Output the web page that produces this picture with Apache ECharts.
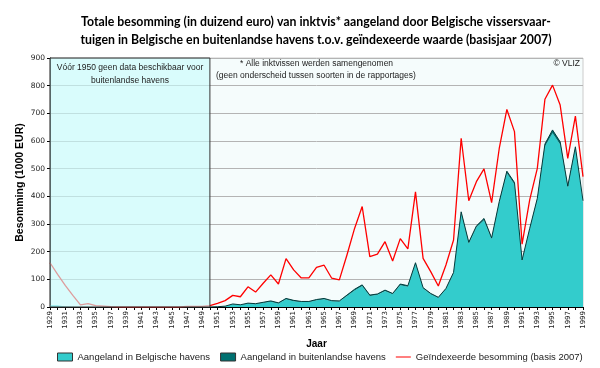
<!DOCTYPE html>
<html><head><meta charset="utf-8">
<script src="https://cdn.jsdelivr.net/npm/echarts@6/dist/echarts.min.js"></script>
<style>html,body{margin:0;padding:0;background:#fff}#c{width:600px;height:368px}</style>
</head><body><div id="c"></div>
<script>
const years = [];
for (let y = 1929; y <= 1999; y++) years.push(String(y));

// 1929..1999
const belgian = [6,6,2,1,0,0,0,0,0,0,0,0,0,0,0,0,0,0,0,0,0,
  0,1,2,9,7,12,10,15,19,13,
  28,21,18,18,24,28,21,20,40,60,
  76,40,44,58,46,79,73,155,67,46,
  33,64,121,338,229,288,314,245,375,483,
  443,166,279,387,580,628,587,430,571,378];
const foreign = [null,null,null,null,null,null,null,null,null,null,null,null,null,null,null,null,null,null,null,null,null,
  0,0,1,2,1,2,2,2,3,2,
  3,3,2,2,3,3,2,2,3,4,
  4,3,3,3,3,4,4,5,3,3,
  2,3,4,6,5,5,6,5,6,8,
  7,4,5,6,9,12,10,7,8,6];
const indexed = [160,118,78,42,8,12,5,3,1,0,0,0,0,0,0,0,0,0,2,2,2,5,
  13,23,42,37,73,54,86,116,83,
  175,134,105,105,143,151,104,98,188,284,
  363,182,191,236,166,247,210,416,176,128,
  76,152,242,610,384,453,499,377,573,714,
  634,227,387,501,751,802,730,537,690,471];

const legendNames = ['Aangeland in Belgische havens','Aangeland in buitenlandse havens','Geïndexeerde besomming (basis 2007)'];

const chart = echarts.init(document.getElementById('c'), null, {renderer:'canvas'});
const sans = '"Liberation Sans", Arial, sans-serif';
const small = '8.5px "Liberation Sans", Arial, sans-serif';
chart.setOption({
  animation:false,
  textStyle:{fontFamily:sans},
  title:{
    text:'Totale besomming (in duizend euro) van inktvis* aangeland door Belgische vissersvaar-\ntuigen in Belgische en buitenlandse havens t.o.v. geïndexeerde waarde (basisjaar 2007)',
    left:311, textAlign:'center', top:8,
    textStyle:{fontSize:12.3, fontWeight:'bold', color:'#000', lineHeight:18, fontFamily:'Lato, sans-serif'}
  },
  grid:{left:50, right:17, top:58, bottom:61, show:true, backgroundColor:'#f5fcfc', borderColor:'#cccccc', borderWidth:1},
  legend:{
    bottom:1, left:52, itemGap:10, itemWidth:15, itemHeight:8,
    textStyle:{fontSize:9.5, color:'#222', fontFamily:sans},
    data:[
      {name:legendNames[0], icon:'rect', itemStyle:{color:'#33cccc', borderColor:'#333', borderWidth:1}},
      {name:legendNames[1], icon:'rect', itemStyle:{color:'#007070', borderColor:'#333', borderWidth:1}},
      {name:legendNames[2], icon:'path://M0,0L0,0ZM0,3.4L15,3.4L15,4.6L0,4.6ZM15,8L15,8Z', itemStyle:{color:'#ff0000'}}
    ]
  },
  xAxis:{
    type:'category', data:years, boundaryGap:false,
    name:'Jaar', nameLocation:'middle', nameGap:32,
    nameTextStyle:{fontSize:10, fontWeight:'bold', color:'#000', fontFamily:sans},
    axisLine:{lineStyle:{color:'#000', width:1}},
    axisTick:{interval:0, length:3, lineStyle:{color:'#000'}},
    axisLabel:{interval:1, rotate:90, fontSize:7, color:'#222', margin:4, fontFamily:'"DejaVu Sans", sans-serif'},
    splitLine:{show:false}
  },
  yAxis:{
    type:'value', min:0, max:900, interval:100,
    name:'Besomming (1000 EUR)', nameLocation:'middle', nameGap:24, nameMoveOverlap:false,
    nameTextStyle:{fontSize:10.5, fontWeight:'bold', color:'#000', fontFamily:sans},
    axisLine:{show:true, lineStyle:{color:'#000'}},
    axisTick:{show:true, length:3, lineStyle:{color:'#000'}},
    axisLabel:{fontSize:7.5, color:'#222', margin:5, fontFamily:'"DejaVu Sans", sans-serif'},
    splitLine:{lineStyle:{color:'#b4b4b4', width:1}}
  },
  series:[
    {name:legendNames[0], type:'line', stack:'t', data:belgian, symbol:'none', z:2,
      lineStyle:{width:0, color:'#33cccc'}, itemStyle:{color:'#33cccc'}, areaStyle:{color:'#33cccc', opacity:1}},
    {name:legendNames[1], type:'line', stack:'t', data:foreign, symbol:'none', z:2,
      lineStyle:{width:1, color:'#003c3c'}, itemStyle:{color:'#007070'}, areaStyle:{color:'#007070', opacity:1}},
    {name:legendNames[2], type:'line', data:indexed, symbol:'none', z:3,
      lineStyle:{width:1.3, color:'#ff0000'}, itemStyle:{color:'#ff0000'}},
    {name:'overlay', type:'line', data:[], z:5, silent:true,
      markArea:{silent:true, z:10,
        itemStyle:{color:'rgba(200,252,252,0.62)', borderColor:'#333', borderWidth:1},
        data:[[{xAxis:'1929', yAxis:900},{xAxis:'1950', yAxis:0}]]}}
  ],
  graphic:[
    {type:'text', x:130, y:61, z:100, style:{text:'Vóór 1950 geen data beschikbaar voor\nbuitenlandse havens', align:'center', textAlign:'center', lineHeight:13, fill:'#222', font:small}},
    {type:'text', x:240, y:59, z:100, style:{text:'* Alle inktvissen werden samengenomen', fill:'#222', font:small}},
    {type:'text', x:216, y:71, z:100, style:{text:'(geen onderscheid tussen soorten in de rapportages)', fill:'#222', font:small}},
    {type:'text', x:580, y:59, z:100, style:{text:'© VLIZ', align:'right', textAlign:'right', fill:'#222', font:small}}
  ]
});
</script></body></html>
